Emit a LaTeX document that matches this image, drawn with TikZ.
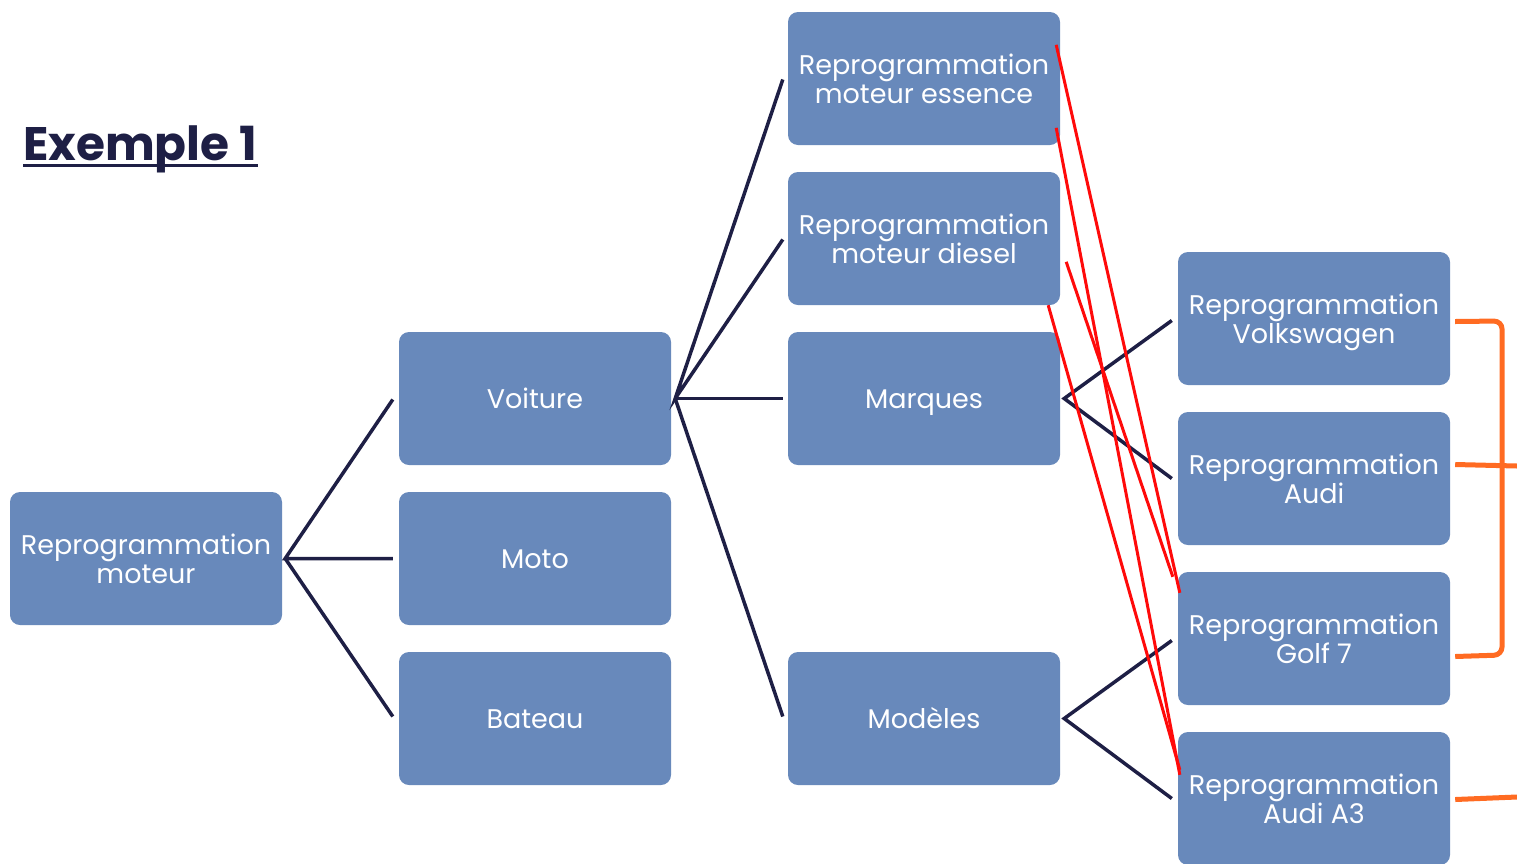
\documentclass[tikz,border=0pt]{standalone}
\usepackage{fontspec}
\setmainfont{Poppins}
\usetikzlibrary{calc}
\definecolor{boxblue}{HTML}{6889BB}
\definecolor{navy}{HTML}{1E1F45}
\definecolor{orng}{HTML}{FF6B22}
\definecolor{redl}{HTML}{FF0A0A}
\tikzset{
  box/.style={fill=boxblue, rounded corners=10pt, minimum width=272pt, minimum height=133pt,
    inner sep=0pt, text=white, align=center, font=\fontsize{27}{29.5}\selectfont},
  double/.style={box, text depth=0pt},
  single/.style={box, text height=19pt, text depth=0pt},
  link/.style={draw=navy, line width=3.5pt},
  redlink/.style={draw=redl, line width=3pt},
  bracket/.style={draw=orng, line width=5pt, rounded corners=8pt}
}
\begin{document}
\begin{tikzpicture}[x=1pt,y=-1pt]
\useasboundingbox (0,0) rectangle (1517,863);
\node[anchor=base west, text=navy, font=\fontsize{47}{52}\selectfont\bfseries, inner sep=0pt] (title) at (23,160) {Exemple 1};
\draw[navy, line width=2.5pt] (title.base west) ++(0,5.5) -- ($(title.base east)+(0,5.5)$);

\node[double] (root) at (146,558.5) {Reprogrammation\\moteur};
\node[single] (voit) at (535,398.5) {Voiture};
\node[single] (moto) at (535,558.5) {Moto};
\node[single] (bat) at (535,718.5) {Bateau};
\node[double] (ess) at (924,78.5) {Reprogrammation\\moteur essence};
\node[double] (dies) at (924,238.5) {Reprogrammation\\moteur diesel};
\node[single] (marq) at (924,398.5) {Marques};
\node[single] (mod) at (924,718.5) {Modèles};
\node[double] (vw) at (1314,318.5) {Reprogrammation\\Volkswagen};
\node[double] (audi) at (1314,478.5) {Reprogrammation\\Audi};
\node[double] (golf) at (1314,638.5) {Reprogrammation\\Golf 7};
\node[double] (a3) at (1314,798.5) {Reprogrammation\\Audi A3};

\coordinate (h1) at ($(root.east)+(3,0)$);
\draw[link] ($(voit.west)+(-6,1)$) -- (h1) -- ($(moto.west)+(-6,0)$);
\draw[link] (h1) -- ($(bat.west)+(-6,-2)$);

\coordinate (h2) at ($(voit.east)+(4,0)$);
\draw[link] ($(ess.west)+(-5,1)$) -- (h2) -- ($(dies.west)+(-5,1)$);
\draw[link] (h2) -- ($(marq.west)+(-5,0)$);
\draw[link] (h2) -- ($(mod.west)+(-5,-2)$);

\coordinate (h3) at ($(marq.east)+(4,0)$);
\draw[link] ($(vw.west)+(-6,2)$) -- (h3) -- ($(audi.west)+(-6,0)$);

\coordinate (h4) at ($(mod.east)+(4,0)$);
\draw[link] ($(golf.west)+(-6,2)$) -- (h4) -- ($(a3.west)+(-6,0)$);

\draw[redlink] ($(ess.north east)+(-4,33)$) -- ($(golf.north west)+(2,21)$);
\draw[redlink] ($(ess.north east)+(-4,116)$) -- ($(a3.north west)+(2,43)$);
\draw[redlink] ($(dies.north east)+(6,90)$) -- ($(golf.north west)+(-5,5)$);
\draw[redlink] ($(dies.south east)+(-12,0)$) -- ($(a3.north west)+(2,38)$);

\draw[bracket] ($(vw.east)+(5,3)$) -- (1502,321) -- (1502,655) -- ($(golf.east)+(5,18)$);
\draw[bracket] ($(audi.east)+(5,-14)$) -- (1517,466);
\draw[bracket] ($(a3.east)+(5,1)$) -- (1517,797);
\end{tikzpicture}
\end{document}
